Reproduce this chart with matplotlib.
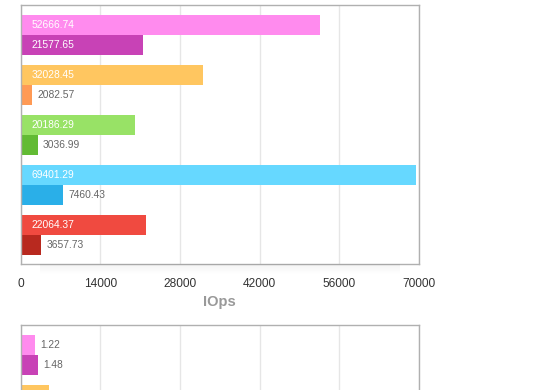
import matplotlib
matplotlib.use("Agg")
import matplotlib.pyplot as plt
from matplotlib.patches import Rectangle
import numpy as np

plt.rcParams['font.family'] = ['Liberation Sans', 'DejaVu Sans']

# Data
groups = ["g1", "g2", "g3", "g4", "g5"]
iops_a = [52666.74, 32028.45, 20186.29, 69401.29, 22064.37]
iops_b = [21577.65, 2082.57, 3036.99, 7460.43, 3657.73]
lat_a = [1.22, 2.4, 1.0, 1.0, 1.0]
lat_b = [1.48, 1.0, 1.0, 1.0, 1.0]
colors_a = ["#ff8bee", "#ffc660", "#98e266", "#66d8ff", "#f04a40"]
colors_b = ["#c842b6", "#ff9a55", "#62bb34", "#2aafe8", "#b8291f"]
iops_ticks = [0, 14000, 28000, 42000, 56000, 70000]
iops_label = "IOps"
lat_max = 33

W, H = 560, 390
fig = plt.figure(figsize=(W / 100, H / 100), dpi=100)

def px_axes(left, top, right, bottom):
    return fig.add_axes([left / W, 1 - bottom / H, (right - left) / W, (bottom - top) / H])

def draw_bars(ax, va, vb, xmax, labels_a=None, labels_b=None):
    y = np.arange(len(va))
    ax.barh(y - 0.2, va, height=0.4, color=colors_a, zorder=2)
    ax.barh(y + 0.2, vb, height=0.4, color=colors_b, zorder=2)
    ax.set_xlim(0, xmax)
    ax.set_ylim(len(va) - 0.42, -0.6)
    for vals, off, labs in ((va, -0.2, labels_a), (vb, 0.2, labels_b)):
        for i, v in enumerate(vals):
            if labs is not None and labs[i] is None:
                continue
            txt = f"{v:.2f}"
            if v > 0.2 * xmax:
                ax.annotate(txt, (0, i + off), xytext=(11, 0), textcoords='offset pixels',
                            ha='left', va='center', color='white', fontsize=7.4, zorder=3)
            else:
                ax.annotate(txt, (v, i + off), xytext=(5, 0), textcoords='offset pixels',
                            ha='left', va='center', color='#666666', fontsize=7.4, zorder=3)
    ax.set_yticks([])
    for s in ax.spines.values():
        s.set_color('#b0b0b0')
        s.set_linewidth(1.0)
    ax.grid(axis='x', color='#e6e6e6', linewidth=1.0, zorder=0)
    ax.set_axisbelow(True)

# shadow below the first chart
for k in range(10):
    a = 0.045 * (1 - k / 10)
    fig.patches.append(Rectangle(((40) / W, 1 - (265 + k) / H), (360) / W, 1 / H,
                                 transform=fig.transFigure, color='black', alpha=a,
                                 linewidth=0, zorder=0))

ax1 = px_axes(20.5, 5, 419, 264)
draw_bars(ax1, iops_a, iops_b, 70000)
ax1.set_xticks(iops_ticks)
ax1.set_xticklabels([str(t) for t in iops_ticks])
ax1.tick_params(axis='x', length=0, pad=10, labelsize=8.6, labelcolor='#333333')
ax1.set_xlabel(iops_label, fontsize=10.5, fontweight='bold', color='#999999', labelpad=4)

ax2 = px_axes(20.5, 325, 419, 584)
draw_bars(ax2, lat_a, lat_b, lat_max,
          labels_a=[1, None, None, None, None], labels_b=[1, None, None, None, None])
ax2.set_xticks(np.linspace(0, lat_max, 6))
ax2.set_xticklabels([])
ax2.tick_params(axis='x', length=0)

fig.savefig("out.png", dpi=100)
